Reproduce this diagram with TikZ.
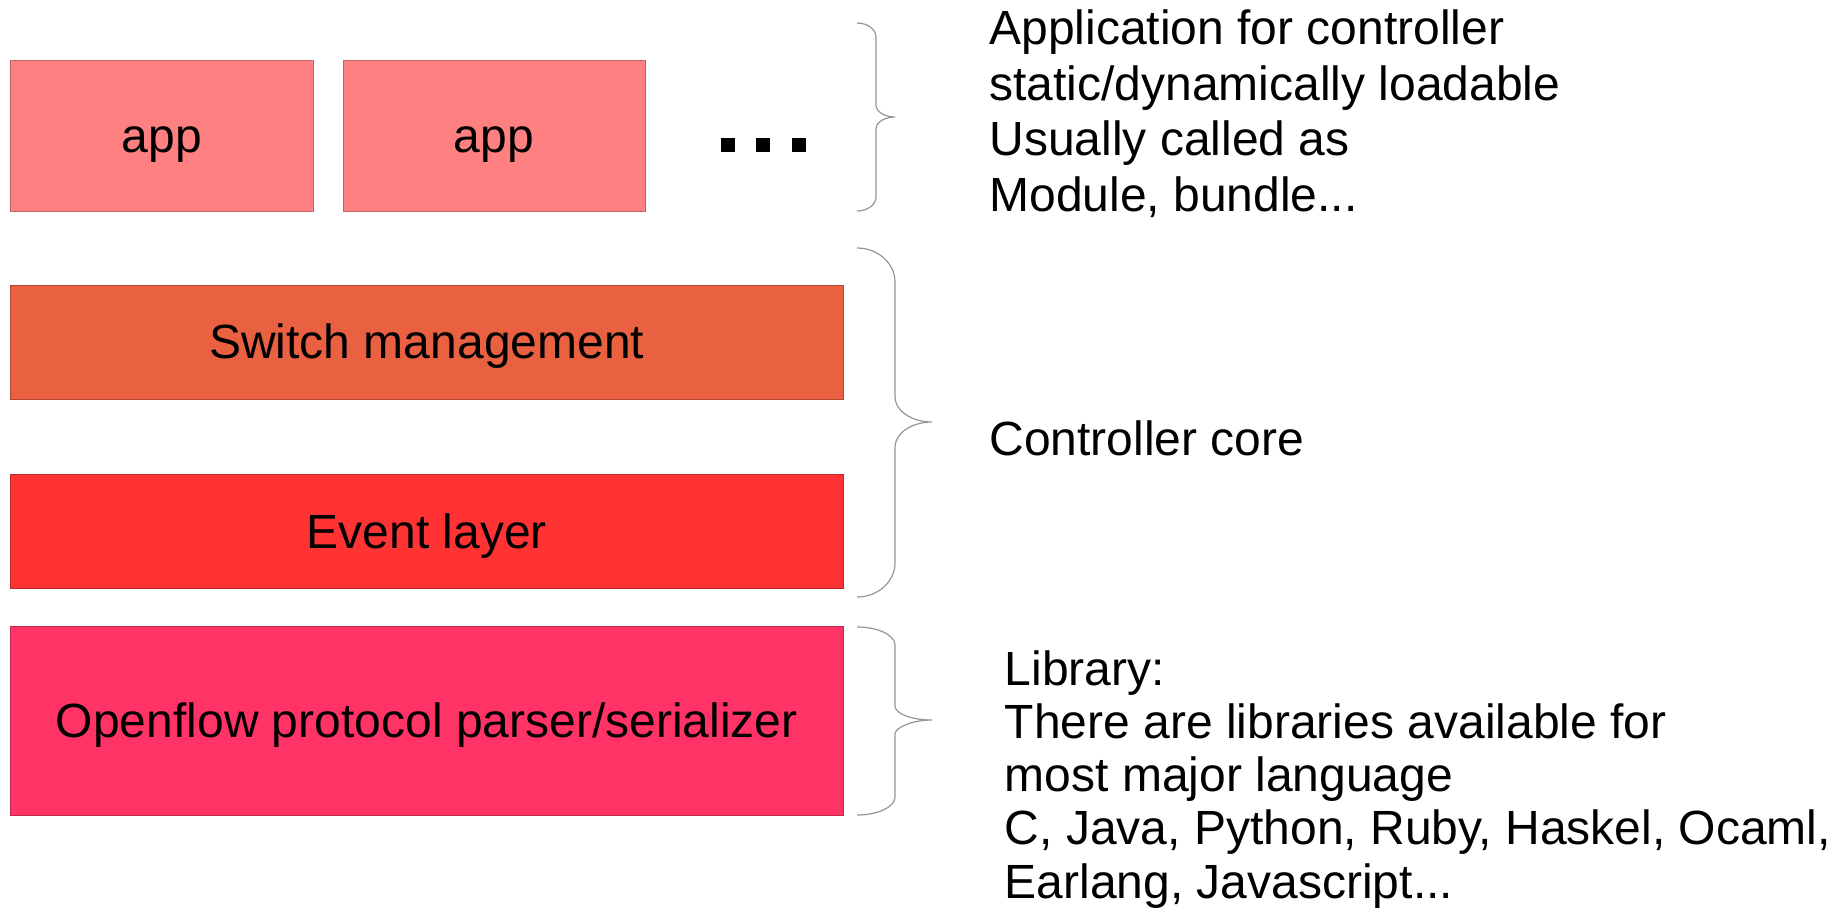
\documentclass[tikz,border=0pt]{standalone}
\usepackage{fontspec}
\setmainfont{Liberation Sans}
\newdimen\px
\px=0.5pt
\definecolor{appfill}{RGB}{255,128,128}
\definecolor{swfill}{RGB}{233,97,65}
\definecolor{evfill}{RGB}{255,51,51}
\definecolor{offill}{RGB}{255,51,102}
\definecolor{bracegray}{RGB}{150,150,150}
\tikzset{
  layer/.style={draw=#1!75!black, line width=0.5pt, fill=#1, inner sep=0pt,
    text height=21.5pt, text depth=5pt,
    font=\fontsize{24}{28}\selectfont, text=black},
  note/.style={anchor=base west, inner sep=0pt, font=\fontsize{24}{28}\selectfont},
  bracket/.style={draw=bracegray, line width=0.6pt},
}
\begin{document}
\begin{tikzpicture}[x=0.5pt, y=-0.5pt]
\useasboundingbox[fill=white] (0,0) rectangle (1840,910);

% application layer
\node[layer=appfill, minimum width=302.5\px, minimum height=151\px] (app1) at (161.75,135.5) {app};
\node[layer=appfill, minimum width=302\px, minimum height=151\px] (app2) at (494,135.5) {app};
\fill (721,138) rectangle ++(14,14);
\fill (756,138) rectangle ++(14,14);
\fill (792,138) rectangle ++(14,14);

% controller core
\node[layer=swfill, minimum width=832.5\px, minimum height=114\px] (sw) at (426.75,342) {Switch management};
\node[layer=evfill, minimum width=832.5\px, minimum height=114\px] (ev) at (426.75,531.5) {Event layer};

% protocol library
\node[layer=offill, minimum width=832.5\px, minimum height=189\px] (of) at (426.75,720.5) {Openflow protocol parser/serializer};

% braces
\draw[bracket] (857,23) .. controls (867.5,23) and (876,29.3) .. (876,37) -- (876,105)
  .. controls (876,111.6) and (884.5,117) .. (895,117)
  .. controls (884.5,117) and (876,122.4) .. (876,129) -- (876,197)
  .. controls (876,204.7) and (867.5,211) .. (857,211);
\draw[bracket] (857,248) .. controls (877.9,248) and (895,263.3) .. (895,282) -- (895,397)
  .. controls (895,410.75) and (911.65,422) .. (932,422)
  .. controls (911.65,422) and (895,433.25) .. (895,447) -- (895,563)
  .. controls (895,581.7) and (877.9,597) .. (857,597);
\draw[bracket] (857,627) .. controls (877.9,627) and (895,635.1) .. (895,645) -- (895,706)
  .. controls (895,713.7) and (911.65,720) .. (932,720)
  .. controls (911.65,720) and (895,727.7) .. (895,734) -- (895,797)
  .. controls (895,806.9) and (877.9,815) .. (857,815);

% annotations
\node[note] (appnote1) at (989,44.6) {Application for controller};
\node[note] (appnote2) at (989,100.1) {static/dynamically loadable};
\node[note] (appnote3) at (989,155.6) {Usually called as};
\node[note] (appnote4) at (989,211.1) {Module, bundle...};

\node[note] (corenote) at (989,455) {Controller core};

\node[note] (libnote1) at (1004.5,685) {Library:};
\node[note] (libnote2) at (1004.5,738.3) {There are libraries available for};
\node[note] (libnote3) at (1004.5,791.5) {most major language};
\node[note] (libnote4) at (1004.5,844.8) {C, Java, Python, Ruby, Haskel, Ocaml,};
\node[note] (libnote5) at (1004.5,898) {Earlang, Javascript...};
\end{tikzpicture}
\end{document}
